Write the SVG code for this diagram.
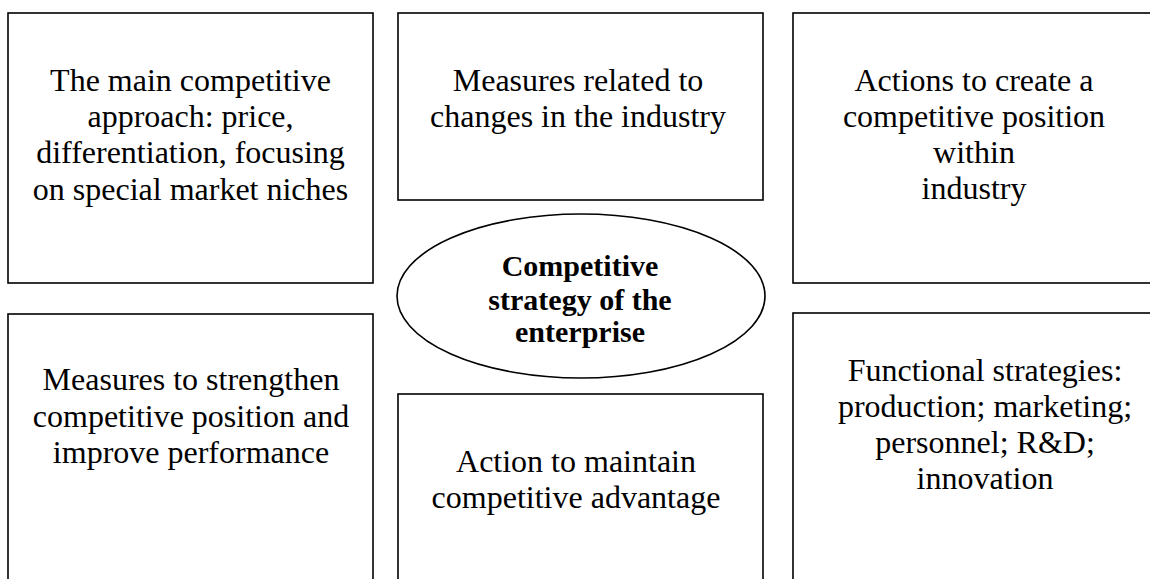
<svg xmlns="http://www.w3.org/2000/svg" width="1150" height="579" viewBox="0 0 1150 579">
<style>
.box{fill:#fff;stroke:#000;stroke-width:1.6}
.t{font-family:"Liberation Serif","Times New Roman",serif;font-size:32px;fill:#000;text-anchor:middle}
.b{font-family:"Liberation Serif","Times New Roman",serif;font-size:30px;font-weight:bold;fill:#000;text-anchor:middle}
</style>
<rect width="1150" height="579" fill="#fff"/>
<g id="connectors"></g>
<g id="n1">
<rect class="box" x="8" y="13" width="365" height="270"/>
<text class="t"><tspan x="190.5" y="90.7">The main competitive</tspan><tspan x="190.5" y="127">approach: price,</tspan><tspan x="190.5" y="163.3">differentiation, focusing</tspan><tspan x="190.5" y="199.5">on special market niches</tspan></text>
</g>
<g id="n2">
<rect class="box" x="398" y="13" width="365" height="187"/>
<text class="t"><tspan x="578" y="90.7">Measures related to</tspan><tspan x="578" y="127.3">changes in the industry</tspan></text>
</g>
<g id="n3">
<rect class="box" x="793" y="13" width="370" height="270"/>
<text class="t"><tspan x="974" y="90.5">Actions to create a</tspan><tspan x="974" y="126.5">competitive position</tspan><tspan x="974" y="162.7">within</tspan><tspan x="974" y="198.5">industry</tspan></text>
</g>
<g id="n4">
<rect class="box" x="8" y="314" width="365" height="280"/>
<text class="t"><tspan x="191" y="390">Measures to strengthen</tspan><tspan x="191" y="426.7">competitive position and</tspan><tspan x="191" y="463.3">improve performance</tspan></text>
</g>
<g id="n5">
<rect class="box" x="398" y="394" width="365" height="200"/>
<text class="t"><tspan x="576" y="471.7">Action to maintain</tspan><tspan x="576" y="508.3">competitive advantage</tspan></text>
</g>
<g id="n6">
<rect class="box" x="793" y="313" width="390" height="280"/>
<text class="t"><tspan x="985" y="380.7">Functional strategies:</tspan><tspan x="985" y="416.7">production; marketing;</tspan><tspan x="985" y="452.7">personnel; R&amp;D;</tspan><tspan x="985" y="488.7">innovation</tspan></text>
</g>
<g id="center">
<ellipse class="box" cx="581" cy="296" rx="184" ry="82"/>
<text class="b"><tspan x="580" y="276">Competitive</tspan><tspan x="580" y="309.5">strategy of the</tspan><tspan x="580" y="342">enterprise</tspan></text>
</g>
</svg>
